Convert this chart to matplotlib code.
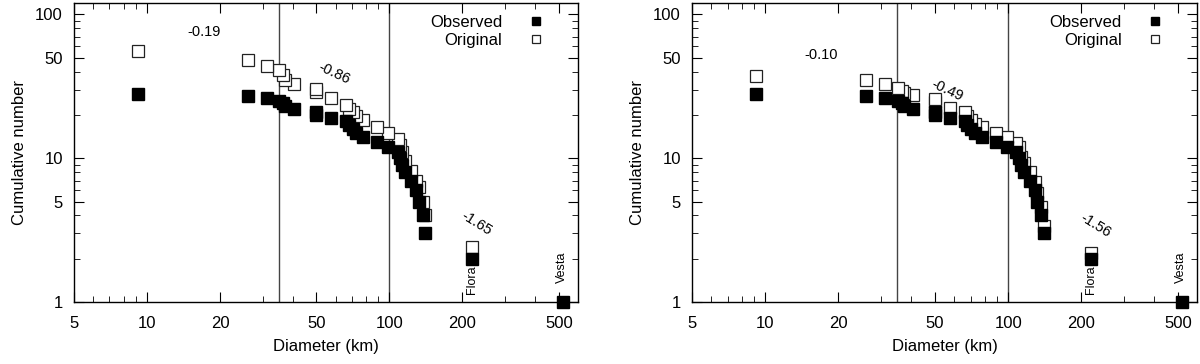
import matplotlib.pyplot as plt
import matplotlib as mpl
from matplotlib.ticker import FixedLocator, NullFormatter, FixedFormatter

mpl.rcParams['font.family'] = 'Liberation Sans'
mpl.rcParams['font.size'] = 12

# Diameters (km) shared by both panels, largest first (Vesta, Flora, ...)
diameters = [520, 220, 140, 137, 132, 129, 123, 116, 113, 111, 108, 99, 89, 78,
             73, 70.5, 68, 66.5, 57.6, 50, 50, 40.5, 37.2, 36.5, 35.1, 31.2, 26.1, 9.2]
observed = list(range(1, 29))

# "Original" cumulative numbers (no open marker for Vesta)
orig_diam = diameters[1:]
original_left = [2.4, 4.0, 5.0, 6.3, 7.0, 8.2, 9.5, 11.0, 12.3, 13.5, 15.0, 16.5, 18.3,
                 19.5, 21, 22, 23.5, 26, 29, 30.5, 33, 35, 38, 41, 44, 48, 56]
original_right = [2.2, 3.4, 4.6, 5.7, 6.8, 8.0, 9.2, 10.2, 11.9, 12.7, 14.0, 14.9, 16.4,
                  17.4, 18.4, 19.8, 20.9, 22.2, 24.5, 25.7, 27.5, 28.5, 29.5, 31, 32.6, 34.8, 37.2]

slopes_left = ["-0.19", "-0.86", "-1.65"]
slopes_right = ["-0.10", "-0.49", "-1.56"]
slope_pos = [(17.2, 75, 0), (59, 39, -25), (228, 3.5, -32)]
slope_pos_right = [(17.0, 52, 0), (56, 29.6, -25), (229, 3.4, -32)]

fig = plt.figure(figsize=(12, 3.64), dpi=100)
ax1 = fig.add_axes([0.0617, 0.170, 0.420, 0.822])
ax2 = fig.add_axes([0.5767, 0.170, 0.421, 0.822])

for ax, orig, slopes, spos in [(ax1, original_left, slopes_left, slope_pos),
                               (ax2, original_right, slopes_right, slope_pos_right)]:
    ax.set_xscale('log')
    ax.set_yscale('log')
    ax.set_xlim(5, 600)
    ax.set_ylim(1, 120)

    ax.axvline(35, color='#444444', lw=1, zorder=1)
    ax.axvline(100, color='#444444', lw=1, zorder=1)

    ax.plot(orig_diam, orig, 's', ms=8, mfc='white', mec='#222222', mew=0.9,
            label='Original', zorder=3, clip_on=False)
    ax.plot(diameters, observed, 's', ms=8, mfc='black', mec='black',
            label='Observed', zorder=4, clip_on=False)

    h, l = ax.get_legend_handles_labels()
    ax.legend(h[::-1], l[::-1], loc='upper right', bbox_to_anchor=(0.9425, 0.981),
              frameon=False, markerfirst=False, markerscale=0.75,
              handlelength=0.8, handletextpad=1.6, labelspacing=0.15,
              borderaxespad=0, borderpad=0.4, fontsize=12)

    for txt, (x, y, rot) in zip(slopes, spos):
        ax.text(x, y, txt, fontsize=10.5, ha='center', va='center', rotation=rot)

    ax.text(220, 1.13, "Flora", fontsize=9, rotation=90, ha='center', va='bottom')
    ax.text(515, 1.36, "Vesta", fontsize=9, rotation=90, ha='center', va='bottom')

    ax.xaxis.set_major_locator(FixedLocator([5, 10, 20, 50, 100, 200, 500]))
    ax.xaxis.set_major_formatter(FixedFormatter(['5', '10', '20', '50', '100', '200', '500']))
    ax.xaxis.set_minor_locator(FixedLocator([6, 7, 8, 9, 30, 40, 60, 70, 80, 90, 300, 400]))
    ax.xaxis.set_minor_formatter(NullFormatter())
    ax.yaxis.set_major_locator(FixedLocator([1, 5, 10, 50, 100]))
    ax.yaxis.set_major_formatter(FixedFormatter(['1', '5', '10', '50', '100']))
    ax.yaxis.set_minor_locator(FixedLocator([2, 3, 4, 6, 7, 8, 9, 20, 30, 40, 60, 70, 80, 90]))
    ax.yaxis.set_minor_formatter(NullFormatter())

    ax.tick_params(which='both', direction='in', top=True, right=True, labelsize=12)
    ax.tick_params(which='major', length=7)
    ax.tick_params(axis='x', which='major', pad=10)
    ax.tick_params(axis='y', which='major', pad=8)
    ax.tick_params(which='minor', length=4)

    ax.set_xlabel("Diameter (km)", fontsize=12, labelpad=6)
    ax.set_ylabel("Cumulative number", fontsize=12, labelpad=6)
    for s in ax.spines.values():
        s.set_linewidth(1)

plt.savefig("out.png", dpi=100)
plt.close()
